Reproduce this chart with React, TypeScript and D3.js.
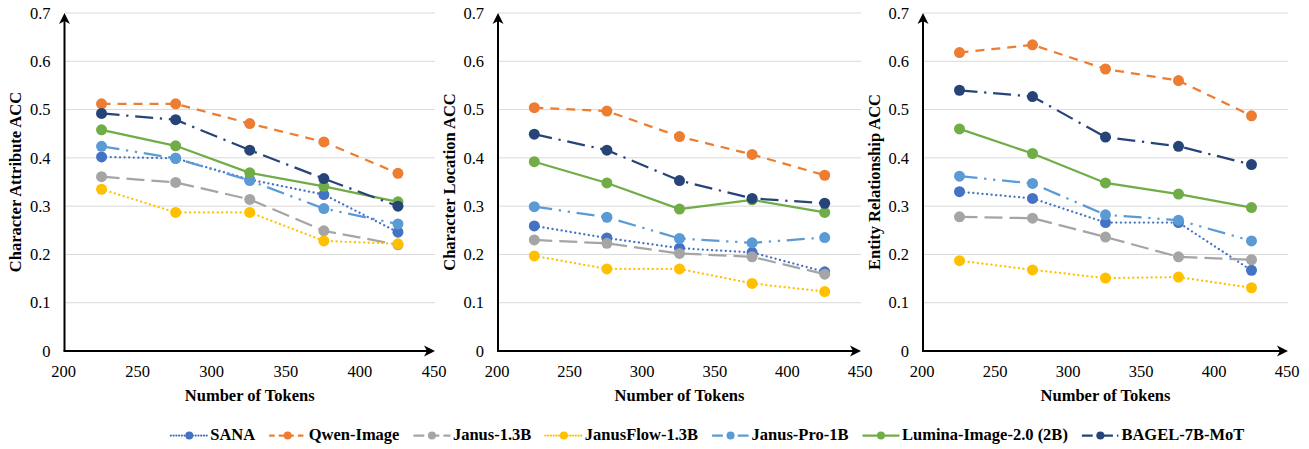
import { useEffect, useRef } from "react";
import * as d3 from "d3";

// x positions (number of tokens)
const tokens = [225, 275, 325, 375, 425];

const models = [
  "SANA",
  "Qwen-Image",
  "Janus-1.3B",
  "JanusFlow-1.3B",
  "Janus-Pro-1B",
  "Lumina-Image-2.0 (2B)",
  "BAGEL-7B-MoT",
];

// one row per model, in the order above
const attributeAcc = [
  [0.402, 0.399, 0.355, 0.324, 0.246],
  [0.512, 0.512, 0.471, 0.433, 0.368],
  [0.361, 0.349, 0.314, 0.249, 0.22],
  [0.335, 0.287, 0.287, 0.228, 0.222],
  [0.424, 0.399, 0.353, 0.295, 0.263],
  [0.458, 0.425, 0.369, 0.341, 0.309],
  [0.492, 0.479, 0.416, 0.357, 0.3],
];

const locationAcc = [
  [0.259, 0.234, 0.213, 0.204, 0.164],
  [0.504, 0.497, 0.444, 0.407, 0.364],
  [0.23, 0.223, 0.202, 0.195, 0.159],
  [0.197, 0.17, 0.17, 0.14, 0.123],
  [0.299, 0.277, 0.233, 0.224, 0.235],
  [0.392, 0.348, 0.294, 0.313, 0.287],
  [0.449, 0.416, 0.353, 0.316, 0.306],
];

const relationAcc = [
  [0.33, 0.316, 0.266, 0.266, 0.167],
  [0.618, 0.634, 0.584, 0.56, 0.487],
  [0.278, 0.275, 0.236, 0.195, 0.189],
  [0.187, 0.168, 0.151, 0.153, 0.131],
  [0.362, 0.347, 0.282, 0.271, 0.228],
  [0.46, 0.409, 0.348, 0.325, 0.297],
  [0.54, 0.527, 0.443, 0.424, 0.386],
];

const yTicks = [0, 0.1, 0.2, 0.3, 0.4, 0.5, 0.6, 0.7];
const xTicks = [200, 250, 300, 350, 400, 450];

const panelTitles = [
  "Character Attribute ACC",
  "Character Location ACC",
  "Entity Relationship ACC",
];
const panelData = [attributeAcc, locationAcc, relationAcc];

// styling
const colors = ["#4472C4", "#ED7D31", "#A5A5A5", "#FFC000", "#5B9BD5", "#70AD47", "#264478"];
const dashes = [
  "0.1 4.5",
  "9 7",
  "18 7",
  "0.1 4.5",
  "18 6.75 2.25 6.75 2.25 6.75",
  null,
  "18 6.75 2.25 6.75",
];
const W = 1309;
const H = 449;
const panelX = [
  [64.5, 435],
  [498, 861],
  [923, 1288],
];
const plotTop = 13;
const plotBottom = 351;
const font = '"Liberation Serif", "Times New Roman", Times, serif';

const App = () => {
  const ref = useRef<SVGSVGElement | null>(null);

  useEffect(() => {
    const svg = d3.select(ref.current);
    svg.selectAll("*").remove();

    const y = d3.scaleLinear().domain([0, 0.7]).range([plotBottom, plotTop]);

    panelData.forEach((rows, p) => {
      const [x0, x1] = panelX[p];
      const x = d3.scaleLinear().domain([200, 450]).range([x0, x1]);
      const g = svg.append("g");

      // grid
      g.append("g")
        .selectAll("line")
        .data(yTicks.filter((t) => t > 0))
        .join("line")
        .attr("x1", x0)
        .attr("x2", x1)
        .attr("y1", (d) => y(d))
        .attr("y2", (d) => y(d))
        .attr("stroke", "#D9D9D9")
        .attr("stroke-width", 1);

      // y tick labels
      const ya = g
        .append("g")
        .attr("transform", `translate(${x0},0)`)
        .call(
          d3
            .axisLeft(y)
            .tickValues(yTicks)
            .tickSize(0)
            .tickPadding(14)
            .tickFormat((d) => (d === 0 ? "0" : d3.format(".1f")(d as number)))
        );
      ya.select(".domain").remove();
      ya.attr("font-family", null).attr("font-size", null);
      ya.selectAll("text").style("font-family", font).style("font-size", "16.5px").attr("fill", "#000");

      // x tick labels
      const xa = g
        .append("g")
        .attr("transform", `translate(-1.5,${plotBottom})`)
        .call(d3.axisBottom(x).tickValues(xTicks).tickSize(0).tickPadding(14).tickFormat(d3.format("d")));
      xa.select(".domain").remove();
      xa.attr("font-family", null).attr("font-size", null);
      xa.selectAll("text").style("font-family", font).style("font-size", "16.5px").attr("fill", "#000");

      // axis lines with arrows
      g.append("line")
        .attr("x1", x0)
        .attr("x2", x0)
        .attr("y1", plotBottom)
        .attr("y2", plotTop + 6)
        .attr("stroke", "#000")
        .attr("stroke-width", 2);
      g.append("path")
        .attr("d", "M0,0 L-5.5,11 L0,8 L5.5,11 Z")
        .attr("transform", `translate(${x0},${plotTop})`)
        .attr("fill", "#000");
      g.append("line")
        .attr("x1", x0 - 1)
        .attr("x2", x1 - 6)
        .attr("y1", plotBottom)
        .attr("y2", plotBottom)
        .attr("stroke", "#000")
        .attr("stroke-width", 2);
      g.append("path")
        .attr("d", "M0,0 L-5.5,11 L0,8 L5.5,11 Z")
        .attr("transform", `translate(${x1},${plotBottom}) rotate(90)`)
        .attr("fill", "#000");

      // titles
      g.append("text")
        .attr("x", (x0 + x1) / 2)
        .attr("y", 401)
        .attr("text-anchor", "middle")
        .style("font-family", font)
        .style("font-weight", "bold")
        .style("font-size", "16.5px")
        .text("Number of Tokens");
      g.append("text")
        .attr("transform", `translate(${x0 - 43.5},${(plotTop + plotBottom) / 2}) rotate(-90)`)
        .attr("text-anchor", "middle")
        .style("font-family", font)
        .style("font-weight", "bold")
        .style("font-size", "16.5px")
        .text(panelTitles[p]);

      // series
      const line = d3
        .line<number>()
        .x((_, i) => x(tokens[i]))
        .y((d) => y(d));

      rows.forEach((vals, s) => {
        const sg = g.append("g");
        sg.append("path")
          .datum(vals)
          .attr("d", line)
          .attr("fill", "none")
          .attr("stroke", colors[s])
          .attr("stroke-width", 2.25)
          .attr("stroke-linecap", dashes[s] && dashes[s]!.startsWith("0.1") ? "round" : "butt")
          .attr("stroke-dasharray", dashes[s]);
        sg.selectAll("circle")
          .data(vals)
          .join("circle")
          .attr("cx", (_, i) => x(tokens[i]))
          .attr("cy", (d) => y(d))
          .attr("r", 5.5)
          .attr("fill", colors[s]);
      });
    });

    // legend
    const lineLen = 37;
    const textGap = 2.5;
    const itemGap = 14;
    const leg = svg.append("g");
    let cursor = 0;
    models.forEach((name, s) => {
      const it = leg.append("g").attr("transform", `translate(${cursor},0)`);
      it.append("line")
        .attr("x1", 0)
        .attr("x2", lineLen)
        .attr("y1", 0)
        .attr("y2", 0)
        .attr("stroke", colors[s])
        .attr("stroke-width", 2.25)
        .attr("stroke-linecap", dashes[s] && dashes[s]!.startsWith("0.1") ? "round" : "butt")
        .attr("stroke-dasharray", dashes[s] ? dashes[s]!.split(" ").map((v) => +v * 0.6).join(" ") : null);
      it.append("circle").attr("cx", lineLen / 2).attr("cy", 0).attr("r", 4).attr("fill", colors[s]);
      const t = it
        .append("text")
        .attr("x", lineLen + textGap)
        .attr("y", 4.5)
        .style("font-family", font)
        .style("font-weight", "bold")
        .style("font-size", "16.5px")
        .text(name);
      const tw = (t.node() as SVGTextElement).getComputedTextLength();
      cursor += lineLen + textGap + tw + itemGap;
    });
    const total = cursor - itemGap;
    leg.attr("transform", `translate(${707.5 - total / 2},435.5)`);
  }, []);

  return (
    <svg
      ref={ref}
      width={W}
      height={H}
      style={{ position: "absolute", left: 0, top: 0, background: "#fff", fontFamily: font }}
    />
  );
};

export default App;
